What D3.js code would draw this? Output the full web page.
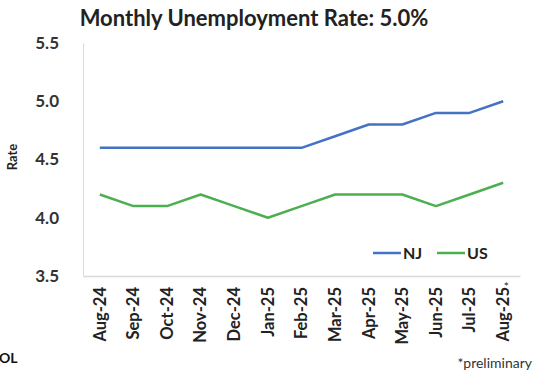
<!DOCTYPE html>
<html><head><meta charset="utf-8">
<script src="https://cdn.jsdelivr.net/npm/d3@7"></script>
<style>
html,body{margin:0;padding:0;background:#fff;}
svg{display:block;font-family:Lato,"Open Sans",sans-serif;}
</style></head>
<body>
<svg id="c" width="560" height="380"></svg>
<script>
const title = "Monthly Unemployment Rate: 5.0%";
const months = ["Aug-24","Sep-24","Oct-24","Nov-24","Dec-24","Jan-25","Feb-25","Mar-25","Apr-25","May-25","Jun-25","Jul-25","Aug-25"];
const njValues = [4.6,4.6,4.6,4.6,4.6,4.6,4.6,4.7,4.8,4.8,4.9,4.9,5.0];
const usValues = [4.2,4.1,4.1,4.2,4.1,4.0,4.1,4.2,4.2,4.2,4.1,4.2,4.3];
const yTicks = [3.5,4.0,4.5,5.0,5.5];
const seriesNames = ["NJ","US"];
const colors = ["#4472c4","#4caf50"];

const svg = d3.select("#c");
const x = d3.scaleBand().domain(months).range([83,520]);
const y = d3.scaleLinear().domain([3.5,5.5]).range([276,43]);

// title
svg.append("text").attr("x",254).attr("y",26).attr("text-anchor","middle")
  .attr("font-size",22).attr("font-weight","bold").attr("fill","#222").text(title);

// y axis
const ya = svg.append("g").attr("transform","translate(83,0)")
  .call(d3.axisLeft(y).tickValues(yTicks).tickFormat(d3.format(".1f")).tickSize(0).tickPadding(24));
ya.select(".domain").attr("stroke","#d9d9d9").attr("stroke-width",1);
ya.selectAll("text").attr("font-size",17).attr("font-weight","bold").attr("fill","#333").attr("font-family","Lato,sans-serif");

// x axis
const xa = svg.append("g").attr("transform","translate(0,276)")
  .call(d3.axisBottom(x).tickSize(0).tickPadding(0));
xa.select(".domain").attr("stroke","#d9d9d9").attr("stroke-width",1.5);
xa.selectAll("text").attr("font-size",16.5).attr("font-weight","bold").attr("fill","#222")
  .attr("font-family","Lato,sans-serif")
  .attr("text-anchor","end").attr("dy","0.35em")
  .attr("transform","translate(0,11) rotate(-90)");

// asterisk on last label
svg.append("text").attr("x",x(months[12])+x.bandwidth()/2+3).attr("y",291).attr("text-anchor","middle")
  .attr("font-size",12).attr("fill","#222").text("*");

// y label
svg.append("text").attr("transform","translate(12,157) rotate(-90)").attr("text-anchor","middle")
  .attr("dy","0.35em").attr("font-size",13).attr("font-weight","bold").attr("fill","#222").text("Rate");

// lines
const line = d3.line().x((d,i)=>x(months[i])+x.bandwidth()/2).y(d=>y(d));
[njValues,usValues].forEach((vals,k)=>{
  svg.append("path").datum(vals).attr("d",line).attr("fill","none")
    .attr("stroke",colors[k]).attr("stroke-width",2.5).attr("stroke-linejoin","round");
});

// legend
const lg = svg.append("g");
const legX = [373,437];
seriesNames.forEach((n,k)=>{
  lg.append("line").attr("x1",legX[k]).attr("x2",legX[k]+28).attr("y1",253).attr("y2",253)
    .attr("stroke",colors[k]).attr("stroke-width",2.5);
  lg.append("text").attr("x",legX[k]+30).attr("y",253).attr("dy","0.35em")
    .attr("font-size",16).attr("font-weight","bold").attr("fill","#222").text(n);
});

// footnotes
svg.append("text").attr("x",532).attr("y",368).attr("text-anchor","end")
  .attr("font-size",14).attr("fill","#333").text("*preliminary");
svg.append("text").attr("x",-1).attr("y",363)
  .attr("font-size",14).attr("font-weight","bold").attr("fill","#111").text("OL");
</script>
</body></html>
